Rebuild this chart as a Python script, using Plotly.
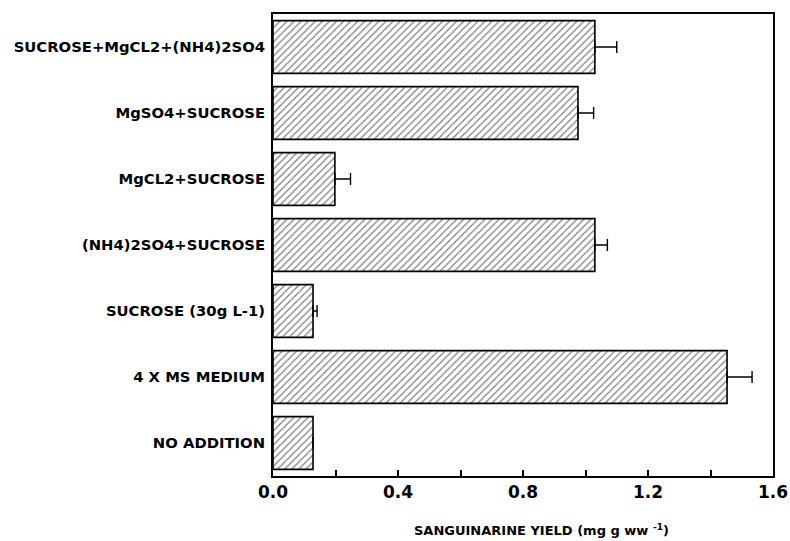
import plotly.graph_objects as go

categories = ["NO ADDITION", "4 X MS MEDIUM", "SUCROSE (30g L-1)", "(NH4)2SO4+SUCROSE",
              "MgCL2+SUCROSE", "MgSO4+SUCROSE", "SUCROSE+MgCL2+(NH4)2SO4"]
yields = [0.128, 1.453, 0.128, 1.03, 0.198, 0.976, 1.03]
errors = [0.0, 0.08, 0.013, 0.04, 0.05, 0.05, 0.07]
tick_vals = [0.0, 0.2, 0.4, 0.6, 0.8, 1.0, 1.2, 1.4, 1.6]
tick_text = ["0.0", "", "0.4", "", "0.8", "", "1.2", "", "1.6"]

FONT = "DejaVu Sans, Arial, Helvetica, sans-serif"

fig = go.Figure()
fig.add_trace(go.Bar(
    y=categories, x=yields, orientation="h",
    marker=dict(color="white",
                line=dict(color="black", width=1.6),
                pattern=dict(shape="/", fgcolor="black", bgcolor="white", size=5, solidity=0.25)),
    error_x=dict(type="data", array=errors, arrayminus=[0] * len(errors), symmetric=False,
                 color="black", thickness=1.4, width=6),
    width=0.8,
))

fig.update_layout(
    width=790, height=541,
    margin=dict(l=273, r=17, t=14, b=65, autoexpand=False),
    paper_bgcolor="white", plot_bgcolor="white",
    showlegend=False,
    font=dict(family=FONT, color="black"),
    bargap=0.2,
)
fig.update_xaxes(
    range=[0, 1.6], tickvals=tick_vals, ticktext=tick_text,
    ticks="inside", ticklen=6, tickwidth=1.5, tickcolor="black",
    showline=True, linecolor="black", linewidth=2, mirror=True,
    showgrid=False, zeroline=False, automargin=False,
    tickfont=dict(size=17, family=FONT, color="black", weight="bold"),
)
fig.update_yaxes(
    range=[-0.5, 6.5],
    showline=True, linecolor="black", linewidth=2, mirror=True,
    showgrid=False, zeroline=False, ticks="", ticklabelstandoff=3, automargin=False,
    tickfont=dict(size=14.8, family=FONT, color="black", weight="bold"),
)
fig.add_annotation(
    text="SANGUINARINE YIELD (mg g ww <sup>-1</sup>)",
    xref="paper", yref="paper", x=0.5, y=0, yshift=-54, xshift=18, xanchor="center", yanchor="middle",
    showarrow=False, font=dict(size=13, family=FONT, color="black", weight="bold"),
)

fig.write_html("out.html")
